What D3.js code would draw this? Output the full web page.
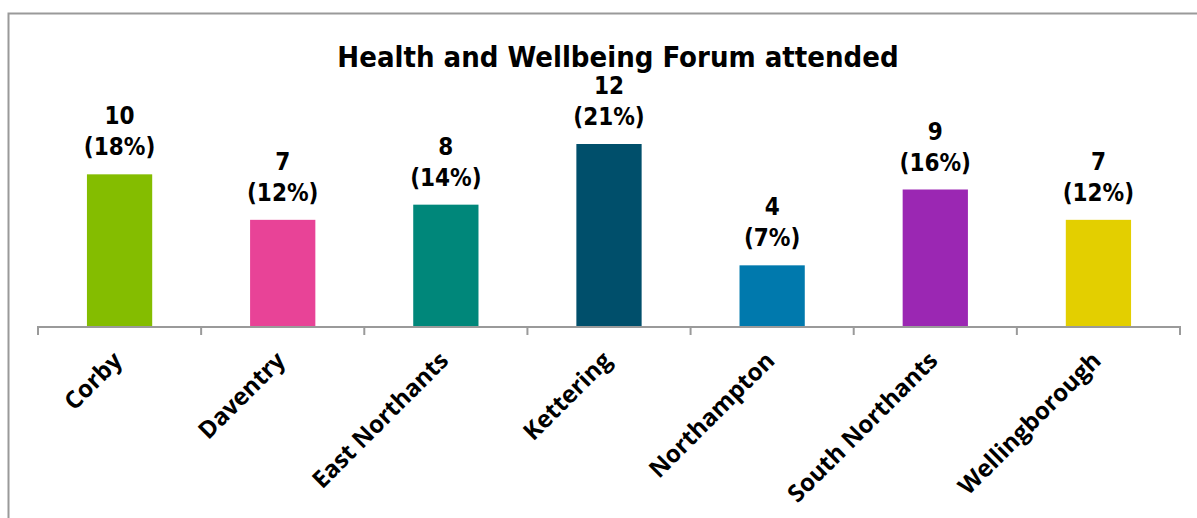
<!DOCTYPE html>
<html>
<head>
<meta charset="utf-8">
<script src="https://cdn.jsdelivr.net/npm/d3@7"></script>
<style>
  html, body { margin: 0; padding: 0; background: #fff; overflow: hidden; }
</style>
</head>
<body>
<div id="chart"></div>
<script>
// Data
const districts = ['Corby', 'Daventry', 'East Northants', 'Kettering', 'Northampton', 'South Northants', 'Wellingborough'];
const attended = [10, 7, 8, 12, 4, 9, 7];
const percents = ['18%', '12%', '14%', '21%', '7%', '16%', '12%'];
const barColours = ['#84bd00', '#e84397', '#00877a', '#004f6b', '#0079ad', '#9b27b3', '#e3cf00'];

const width = 1197;
const height = 518;

const svg = d3.select('#chart')
    .append('svg')
    .attr('width', width)
    .attr('height', height);

// outer frame, only top and left edges are in view
svg.append('rect')
    .attr('x', 8.5)
    .attr('y', 13.5)
    .attr('width', 1300)
    .attr('height', 600)
    .attr('fill', 'none')
    .attr('stroke', '#9a9a9a')
    .attr('stroke-width', 2);

svg.append('text')
    .text('Health and Wellbeing Forum attended')
    .attr('x', 618)
    .attr('y', 67)
    .attr('text-anchor', 'middle')
    .style('font-family', 'DejaVu Sans Condensed')
    .style('font-stretch', 'condensed')
    .style('font-weight', 'bold')
    .style('font-size', '29px');

const baseline = 326;

const x = d3.scaleBand()
    .domain(districts)
    .range([38, 1180])
    .paddingInner(0.6)
    .paddingOuter(0.3);

const y = d3.scaleLinear()
    .domain([0, 12])
    .range([baseline, 144]);

const data = districts.map((d, i) => ({ name: d, value: attended[i], pct: percents[i], colour: barColours[i] }));

svg.selectAll('.bar')
    .data(data)
    .join('rect')
        .attr('class', 'bar')
        .attr('x', d => x(d.name))
        .attr('y', d => y(d.value))
        .attr('width', x.bandwidth())
        .attr('height', d => baseline - y(d.value))
        .attr('fill', d => d.colour);

// category axis with ticks between the bands
const axis = svg.append('g');
axis.append('line')
    .attr('x1', 38).attr('x2', 1180)
    .attr('y1', baseline + 1).attr('y2', baseline + 1)
    .attr('stroke', '#9a9a9a')
    .attr('stroke-width', 2);

const tickXs = d3.range(districts.length + 1).map(i => 38 + i * (1180 - 38) / districts.length);
axis.selectAll('.tick')
    .data(tickXs)
    .join('line')
        .attr('class', 'tick')
        .attr('x1', d => d).attr('x2', d => d)
        .attr('y1', baseline).attr('y2', baseline + 9)
        .attr('stroke', '#9a9a9a')
        .attr('stroke-width', 2);

axis.selectAll('.cat')
    .data(data)
    .join('text')
        .attr('class', 'cat')
        .text(d => d.name)
        .attr('text-anchor', 'end')
        .attr('transform', d => `translate(${x(d.name) + x.bandwidth() / 2 + 4}, ${baseline + 36}) rotate(-45)`)
        .style('font-family', 'Open Sans')
        .style('font-weight', 'bold')
        .style('font-size', '24px');

// value labels
const labels = svg.selectAll('.label')
    .data(data)
    .join('text')
        .attr('class', 'label')
        .attr('text-anchor', 'middle')
        .style('font-family', 'DejaVu Sans Condensed')
        .style('font-stretch', 'condensed')
        .style('font-weight', 'bold')
        .style('font-size', '24px');

labels.append('tspan')
    .attr('x', d => x(d.name) + x.bandwidth() / 2)
    .attr('y', d => y(d.value) - 50)
    .text(d => d.value);

labels.append('tspan')
    .attr('x', d => x(d.name) + x.bandwidth() / 2)
    .attr('y', d => y(d.value) - 19)
    .text(d => `(${d.pct})`);
</script>
</body>
</html>
